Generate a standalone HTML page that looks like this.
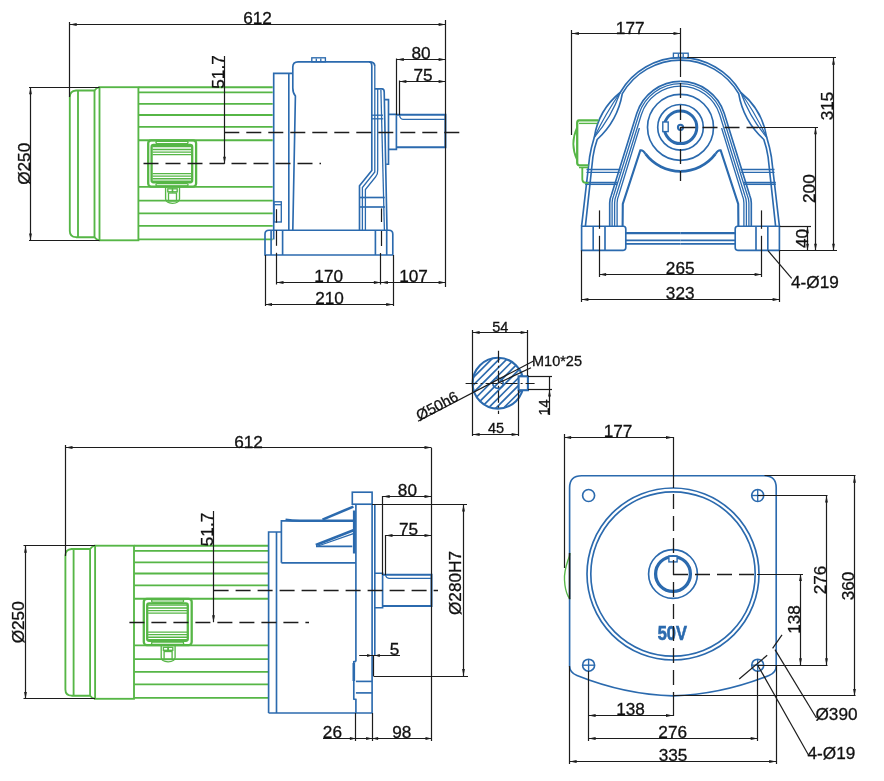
<!DOCTYPE html>
<html><head><meta charset="utf-8"><title>Gear motor drawing</title><style>
html,body{margin:0;padding:0;background:#fff;}
svg{display:block;will-change:transform;}
.k{stroke:#1c1c1c;stroke-width:1.2;fill:none;}
.kk{stroke:#1c1c1c;stroke-width:1.6;fill:none;}
.dsh{stroke:#1c1c1c;stroke-width:1.3;fill:none;stroke-dasharray:15 7;}
.ar{fill:#1c1c1c;stroke:none;}
.b{stroke:#2b6aae;stroke-width:1.65;fill:none;}
.bt{stroke:#2b6aae;stroke-width:2.1;fill:none;}
.b2{stroke:#2b6aae;stroke-width:1.35;fill:none;}
.b3{stroke:#2b6aae;stroke-width:1.3;fill:none;}
.b5{stroke:#2b6aae;stroke-width:1.7;fill:none;}
.cl{stroke:#1c1c1c;stroke-width:1.2;fill:none;stroke-dasharray:12 3 2 3;}
.b4{stroke:#2b6aae;stroke-width:2.6;fill:none;}
.g{stroke:#56b646;stroke-width:1.85;fill:none;}
.g2{stroke:#56b646;stroke-width:1.35;fill:none;}
.g3{stroke:#56b646;stroke-width:2.3;fill:none;}
.t{font-family:"Liberation Sans",sans-serif;fill:#111;stroke:#111;stroke-width:0.3;}
</style></head>
<body><svg width="884" height="781" viewBox="0 0 884 781">
<rect x="0" y="0" width="884" height="781" fill="#fff"/>
<path class="g" d="M99.5,87.2 Q96,88 94.5,90.5 L76,90.5 Q69.8,91 69.8,97 L69.8,231 Q69.8,237 76,237.2 L94.5,237.2 Q96,239.5 99.5,240.3"/>
<line class="g" x1="78.0" y1="90.5" x2="78.0" y2="237.2"/>
<line class="g" x1="94.5" y1="90.5" x2="94.5" y2="237.2"/>
<rect class="g" x="99.5" y="87.2" width="38.9" height="153.1" rx="0"/>
<line class="g" x1="138.7" y1="87.2" x2="272.7" y2="87.2"/>
<line class="g" x1="138.7" y1="92.4" x2="272.7" y2="92.4"/>
<line class="g" x1="138.7" y1="103.8" x2="272.7" y2="103.8"/>
<line class="g" x1="138.7" y1="115.0" x2="272.7" y2="115.0"/>
<line class="g" x1="138.7" y1="126.8" x2="272.7" y2="126.8"/>
<line class="g" x1="138.7" y1="140.2" x2="272.7" y2="140.2"/>
<line class="g" x1="138.7" y1="186.8" x2="272.7" y2="186.8"/>
<line class="g" x1="138.7" y1="200.6" x2="272.7" y2="200.6"/>
<line class="g" x1="138.7" y1="213.3" x2="272.7" y2="213.3"/>
<line class="g" x1="138.7" y1="225.9" x2="272.7" y2="225.9"/>
<line class="g" x1="138.7" y1="239.3" x2="272.7" y2="239.3"/>
<rect class="g3" x="148.2" y="140.3" width="47.9" height="46.3" rx="3"/>
<rect class="g3" x="151.6" y="144.9" width="40.6" height="37.4" rx="2"/>
<line class="g2" x1="152.5" y1="146.6" x2="191.5" y2="146.6"/>
<line class="g2" x1="152.5" y1="149.5" x2="191.5" y2="149.5"/>
<line class="g2" x1="152.5" y1="152.1" x2="191.5" y2="152.1"/>
<line class="g2" x1="152.5" y1="154.6" x2="191.5" y2="154.6"/>
<line class="g2" x1="152.5" y1="173.6" x2="191.5" y2="173.6"/>
<line class="g2" x1="152.5" y1="176.1" x2="191.5" y2="176.1"/>
<line class="g2" x1="152.5" y1="178.7" x2="191.5" y2="178.7"/>
<line class="g2" x1="152.5" y1="181.2" x2="191.5" y2="181.2"/>
<rect class="g2" x="156.0" y="141.2" width="32.0" height="2.4" rx="1"/>
<rect class="g2" x="156.0" y="183.6" width="32.0" height="2.4" rx="1"/>
<path class="g2" d="M165.6,186.9 L165.6,199 Q166,203 172.5,203.3 Q179,203 179.5,199 L179.5,186.9"/>
<rect class="g2" x="167.8" y="188.8" width="4.6" height="3.0" rx="0"/>
<rect class="g2" x="172.6" y="188.8" width="4.6" height="3.0" rx="0"/>
<rect class="g2" x="168.5" y="193.0" width="8.0" height="8.0" rx="0"/>
<path class="b" d="M273.7,239.5 L273.7,73.4 L292.7,73.4"/>
<line class="b" x1="288.8" y1="73.4" x2="288.8" y2="230.2"/>
<path class="b" d="M292.8,230.2 L295.4,96 Q292.8,93 292.8,88 L292.8,67 Q292.8,61.8 298,61.8 L369,61.8 Q371.8,61.8 371.8,66"/>
<path class="b" d="M369,61.8 Q374.8,61.8 374.8,66"/>
<rect class="b2" x="311.8" y="57.8" width="13.6" height="4.0" rx="0"/>
<line class="b3" x1="316.3" y1="58.5" x2="316.3" y2="61.5"/>
<line class="b3" x1="320.8" y1="58.5" x2="320.8" y2="61.5"/>
<path class="b" d="M374.8,88.9 L382,88.9 Q384.2,89 384.2,92 L387,230.2"/>
<line class="b3" x1="380.9" y1="90.0" x2="384.4" y2="230.2"/>
<path class="b3" d="M377.7,88.9 L377.7,170 Q378,174 375.5,177 L365.4,189.6 L365.4,230.2"/>
<path class="b" d="M384.8,99.6 L388.5,99.6 L388.5,164.2 L386.2,164.2"/>
<line class="b3" x1="371.8" y1="118.8" x2="383.2" y2="118.8"/>
<line class="b3" x1="371.8" y1="115.2" x2="383.0" y2="115.2"/>
<path class="b" d="M388.5,114.3 L396.4,114.3 L396.4,149.4 L388.5,149.4"/>
<path class="bt" d="M396.4,114.8 L445.4,114.8 L445.4,147.3 L396.4,147.3"/>
<path class="b3" d="M399.5,115 Q400,119 403,119.3 L445,119.3"/>
<path class="b" d="M371.8,66 L371.8,170.4 L359.5,185.8 L359.5,230.2"/>
<path class="b3" d="M374.8,66 L374.8,172 L362.4,187.6 L362.4,230.2"/>
<line class="b" x1="359.5" y1="197.5" x2="384.8" y2="197.5"/>
<line class="b" x1="359.5" y1="207.0" x2="385.0" y2="207.0"/>
<rect class="b2" x="274.0" y="201.8" width="7.3" height="20.2" rx="0"/>
<line class="b3" x1="274.5" y1="204.7" x2="281.0" y2="204.7"/>
<path class="b" d="M265,255 L265,234 Q265,230.2 269,230.2 L389,230.2 Q392.8,230.2 392.8,234 L392.8,255 Z"/>
<line class="b" x1="271.1" y1="230.2" x2="271.1" y2="255.0"/>
<line class="b" x1="282.6" y1="230.2" x2="282.6" y2="255.0"/>
<line class="b" x1="375.4" y1="230.2" x2="375.4" y2="255.0"/>
<line class="b" x1="386.7" y1="230.2" x2="386.7" y2="255.0"/>
<line class="k" x1="69.5" y1="22.0" x2="69.5" y2="97.0"/>
<line class="k" x1="69.7" y1="24.5" x2="445.6" y2="24.5"/>
<path class="ar" d="M69.7,24.5 L76.7,23.1 L76.7,25.9Z"/>
<path class="ar" d="M445.6,24.5 L438.6,25.9 L438.6,23.1Z"/>
<text class="t" x="257.5" y="24.3" font-size="17.2" text-anchor="middle">612</text>
<line class="k" x1="445.5" y1="20.0" x2="445.5" y2="287.0"/>
<line class="k" x1="396.5" y1="58.5" x2="396.5" y2="115.0"/>
<line class="k" x1="396.8" y1="59.5" x2="445.6" y2="59.5"/>
<path class="ar" d="M396.8,59.5 L403.8,58.1 L403.8,60.9Z"/>
<path class="ar" d="M445.6,59.5 L438.6,60.9 L438.6,58.1Z"/>
<text class="t" x="421.0" y="58.6" font-size="17.2" text-anchor="middle">80</text>
<line class="k" x1="399.5" y1="80.5" x2="399.5" y2="115.0"/>
<line class="k" x1="399.4" y1="81.5" x2="445.6" y2="81.5"/>
<path class="ar" d="M399.4,81.5 L406.4,80.1 L406.4,82.9Z"/>
<path class="ar" d="M445.6,81.5 L438.6,82.9 L438.6,80.1Z"/>
<text class="t" x="423.0" y="80.8" font-size="17.2" text-anchor="middle">75</text>
<line class="k" x1="29.0" y1="87.5" x2="99.5" y2="87.5"/>
<line class="k" x1="29.0" y1="240.5" x2="99.5" y2="240.5"/>
<line class="k" x1="30.5" y1="87.2" x2="30.5" y2="240.4"/>
<path class="ar" d="M30.5,87.2 L31.9,94.2 L29.1,94.2Z"/>
<path class="ar" d="M30.5,240.4 L29.1,233.4 L31.9,233.4Z"/>
<text class="t" x="30.0" y="163.8" font-size="17.2" text-anchor="middle" transform="rotate(-90 30.0 163.8)">Ø250</text>
<line class="k" x1="224.5" y1="56.0" x2="224.5" y2="163.8"/>
<path class="ar" d="M224.5,163.8 L223.1,156.8 L225.9,156.8Z"/>
<text class="t" x="223.7" y="72.0" font-size="17.2" text-anchor="middle" transform="rotate(-90 223.7 72.0)">51.7</text>
<line class="dsh" x1="224.3" y1="132.5" x2="461.0" y2="132.5"/>
<line class="dsh" x1="143.5" y1="163.5" x2="321.0" y2="163.5"/>
<line class="k" x1="276.5" y1="252.8" x2="276.5" y2="284.5"/>
<line class="k" x1="380.5" y1="253.0" x2="380.5" y2="284.5"/>
<line class="k" x1="276.5" y1="209.2" x2="276.5" y2="222.7"/>
<line class="k" x1="276.5" y1="230.4" x2="276.5" y2="245.8"/>
<line class="k" x1="381.5" y1="208.4" x2="381.5" y2="222.0"/>
<line class="k" x1="381.5" y1="231.0" x2="381.5" y2="246.0"/>
<line class="k" x1="265.5" y1="255.0" x2="265.5" y2="306.0"/>
<line class="k" x1="393.5" y1="255.0" x2="393.5" y2="306.0"/>
<line class="k" x1="276.5" y1="282.5" x2="380.9" y2="282.5"/>
<path class="ar" d="M276.5,282.5 L283.5,281.1 L283.5,283.9Z"/>
<path class="ar" d="M380.9,282.5 L373.9,283.9 L373.9,281.1Z"/>
<text class="t" x="328.7" y="282.4" font-size="17.2" text-anchor="middle">170</text>
<line class="k" x1="380.9" y1="282.5" x2="445.6" y2="282.5"/>
<path class="ar" d="M380.9,282.5 L387.9,281.1 L387.9,283.9Z"/>
<path class="ar" d="M445.6,282.5 L438.6,283.9 L438.6,281.1Z"/>
<text class="t" x="413.5" y="282.4" font-size="17.2" text-anchor="middle">107</text>
<line class="k" x1="265.0" y1="304.5" x2="393.2" y2="304.5"/>
<path class="ar" d="M265.0,304.5 L272.0,303.1 L272.0,305.9Z"/>
<path class="ar" d="M393.2,304.5 L386.2,305.9 L386.2,303.1Z"/>
<text class="t" x="329.5" y="304.0" font-size="17.2" text-anchor="middle">210</text>
<g>
<path class="b" d="M680.5,57.7 A69.6,69.6 0 0 0 620.2,92.5 Q598.5,110 594.3,137.3 Q591,148 589.6,157 L581.6,226.2"/>
<path class="b" d="M680.5,60.099999999999994 A67.2,67.2 0 0 0 622.3,93.7 Q617.6,121 597.2,139.5 Q594.2,148 592.9,157 L585.4,226.2"/>
<path class="b3" d="M620.2,92.5 Q605.5,113.7 594.3,137.3"/>
<path class="b3" d="M620.2,92.5 Q611.3,117.3 594.3,137.3"/>
<line class="b" x1="586.5" y1="169.5" x2="620.5" y2="169.5"/>
<line class="b3" x1="586.4" y1="172.3" x2="619.8" y2="172.3"/>
<line class="b" x1="585.2" y1="182.6" x2="617.5" y2="182.6"/>
<line class="b3" x1="585.2" y1="184.4" x2="617.0" y2="184.4"/>
<path class="b" d="M680.5,81.4 A45.9,45.9 0 0 0 636.8,113.3 L611.1,196.0 Q609.7,199.0 609.7,203.0 L609.7,226.2"/>
<path class="b3" d="M680.5,83.7 A43.6,43.6 0 0 0 639.0,114.0 L613.5,196.0 Q612.1,199.0 612.1,203.0 L612.1,226.2"/>
<path class="b3" d="M680.5,86.1 A41.2,41.2 0 0 0 641.3,114.7 L616.0,196.0 Q614.6,199.0 614.6,203.0 L614.6,226.2"/>
<path class="b3" d="M639.4,128 L618.5,196.0 Q617.1,199.0 617.1,203.0 L617.1,226.2"/>
<path class="bt" d="M622.6,226.2 L622.8,204 L640.3,150.3 Q642.8,149.6 645.5,153.9"/>
<path class="b4" d="M645.5,153.9 A44.1,44.1 0 0 0 680.5,171.4"/>
<path class="b" d="M623.5,226.2 L581.6,226.2 L581.6,250.3 L623.5,250.3 Q625.8,250 625.8,247.5 L625.8,229 Q625.8,226.2 623.5,226.2"/>
<line class="b" x1="593.2" y1="226.2" x2="593.2" y2="250.3"/>
<line class="b" x1="605.0" y1="226.2" x2="605.0" y2="250.3"/>
<line class="bt" x1="625.8" y1="233.1" x2="680.5" y2="233.1"/>
<line class="b" x1="625.8" y1="240.4" x2="680.5" y2="240.4"/>
<line class="b" x1="625.8" y1="243.8" x2="680.5" y2="243.8"/>
</g>
<g transform="translate(1361,0) scale(-1,1)">
<path class="b" d="M680.5,57.7 A69.6,69.6 0 0 0 620.2,92.5 Q598.5,110 594.3,137.3 Q591,148 589.6,157 L581.6,226.2"/>
<path class="b" d="M680.5,60.099999999999994 A67.2,67.2 0 0 0 622.3,93.7 Q617.6,121 597.2,139.5 Q594.2,148 592.9,157 L585.4,226.2"/>
<path class="b3" d="M620.2,92.5 Q605.5,113.7 594.3,137.3"/>
<path class="b3" d="M620.2,92.5 Q611.3,117.3 594.3,137.3"/>
<line class="b" x1="586.5" y1="169.5" x2="620.5" y2="169.5"/>
<line class="b3" x1="586.4" y1="172.3" x2="619.8" y2="172.3"/>
<line class="b" x1="585.2" y1="182.6" x2="617.5" y2="182.6"/>
<line class="b3" x1="585.2" y1="184.4" x2="617.0" y2="184.4"/>
<path class="b" d="M680.5,81.4 A45.9,45.9 0 0 0 636.8,113.3 L611.1,196.0 Q609.7,199.0 609.7,203.0 L609.7,226.2"/>
<path class="b3" d="M680.5,83.7 A43.6,43.6 0 0 0 639.0,114.0 L613.5,196.0 Q612.1,199.0 612.1,203.0 L612.1,226.2"/>
<path class="b3" d="M680.5,86.1 A41.2,41.2 0 0 0 641.3,114.7 L616.0,196.0 Q614.6,199.0 614.6,203.0 L614.6,226.2"/>
<path class="b3" d="M639.4,128 L618.5,196.0 Q617.1,199.0 617.1,203.0 L617.1,226.2"/>
<path class="bt" d="M622.6,226.2 L622.8,204 L640.3,150.3 Q642.8,149.6 645.5,153.9"/>
<path class="b4" d="M645.5,153.9 A44.1,44.1 0 0 0 680.5,171.4"/>
<path class="b" d="M623.5,226.2 L581.6,226.2 L581.6,250.3 L623.5,250.3 Q625.8,250 625.8,247.5 L625.8,229 Q625.8,226.2 623.5,226.2"/>
<line class="b" x1="593.2" y1="226.2" x2="593.2" y2="250.3"/>
<line class="b" x1="605.0" y1="226.2" x2="605.0" y2="250.3"/>
<line class="bt" x1="625.8" y1="233.1" x2="680.5" y2="233.1"/>
<line class="b" x1="625.8" y1="240.4" x2="680.5" y2="240.4"/>
<line class="b" x1="625.8" y1="243.8" x2="680.5" y2="243.8"/>
</g>
<circle class="b" cx="680.5" cy="127.3" r="33.0"/>
<circle class="b" cx="680.5" cy="127.3" r="22.8"/>
<circle cx="680.5" cy="127.3" r="16.3" fill="none" stroke="#2b6aae" stroke-width="3"/>
<circle cx="680.5" cy="127.3" r="2.6" fill="none" stroke="#2b6aae" stroke-width="2"/>
<rect x="662.8" y="122" width="5.4" height="9.6" fill="#fff" stroke="#2b6aae" stroke-width="1.4"/>
<rect class="b2" x="673.4" y="53.2" width="14.8" height="4.6" rx="0"/>
<line class="b3" x1="678.4" y1="53.6" x2="678.4" y2="57.6"/>
<line class="b3" x1="683.2" y1="53.6" x2="683.2" y2="57.6"/>
<path class="g3" d="M598.4,120.4 L579,120.4 Q577.2,120.6 577.2,123 L577.2,163 Q577.4,165.3 579.5,165.3 L588.5,165.3"/>
<path class="g" d="M577.2,127.4 Q569.5,143.8 577.2,160.2"/>
<line class="g2" x1="579.0" y1="123.4" x2="597.5" y2="123.4"/>
<line class="g2" x1="579.0" y1="167.6" x2="588.0" y2="167.6"/>
<path class="g" d="M582.3,167.6 L582.3,179.5 Q582.5,182.8 586,182.8 L588.5,182.8"/>
<line class="k" x1="571.5" y1="30.0" x2="571.5" y2="135.0"/>
<line class="k" x1="571.9" y1="33.5" x2="680.5" y2="33.5"/>
<path class="ar" d="M571.9,33.5 L578.9,32.1 L578.9,34.9Z"/>
<path class="ar" d="M680.5,33.5 L673.5,34.9 L673.5,32.1Z"/>
<text class="t" x="630.2" y="33.8" font-size="17.2" text-anchor="middle">177</text>
<line class="k" x1="680.5" y1="28.0" x2="680.5" y2="77.0"/>
<line class="dsh" x1="680.5" y1="83.0" x2="680.5" y2="181.0"/>
<line class="k" x1="687.0" y1="57.5" x2="836.0" y2="57.5"/>
<line class="k" x1="833.5" y1="57.7" x2="833.5" y2="250.7"/>
<path class="ar" d="M833.5,57.7 L834.9,64.7 L832.1,64.7Z"/>
<path class="ar" d="M833.5,250.7 L832.1,243.7 L834.9,243.7Z"/>
<text class="t" x="833.0" y="106.0" font-size="17.2" text-anchor="middle" transform="rotate(-90 833.0 106.0)">315</text>
<line class="dsh" x1="680.5" y1="127.5" x2="758.0" y2="127.5"/>
<line class="k" x1="758.0" y1="127.5" x2="818.0" y2="127.5"/>
<line class="k" x1="815.5" y1="127.3" x2="815.5" y2="250.7"/>
<path class="ar" d="M815.5,127.3 L816.9,134.3 L814.1,134.3Z"/>
<path class="ar" d="M815.5,250.7 L814.1,243.7 L816.9,243.7Z"/>
<text class="t" x="815.0" y="188.6" font-size="17.2" text-anchor="middle" transform="rotate(-90 815.0 188.6)">200</text>
<line class="k" x1="779.7" y1="226.5" x2="811.0" y2="226.5"/>
<line class="k" x1="779.7" y1="250.5" x2="837.0" y2="250.5"/>
<line class="k" x1="807.5" y1="226.2" x2="807.5" y2="250.7"/>
<path class="ar" d="M807.5,226.2 L808.9,233.2 L806.1,233.2Z"/>
<path class="ar" d="M807.5,250.7 L806.1,243.7 L808.9,243.7Z"/>
<text class="t" x="807.5" y="238.5" font-size="17.2" text-anchor="middle" transform="rotate(-90 807.5 238.5)">40</text>
<line class="k" x1="599.5" y1="210.4" x2="599.5" y2="228.8"/>
<line class="k" x1="599.5" y1="235.8" x2="599.5" y2="277.0"/>
<line class="k" x1="761.5" y1="210.4" x2="761.5" y2="228.8"/>
<line class="k" x1="761.5" y1="235.8" x2="761.5" y2="277.0"/>
<line class="k" x1="599.1" y1="274.5" x2="761.6" y2="274.5"/>
<path class="ar" d="M599.1,274.5 L606.1,273.1 L606.1,275.9Z"/>
<path class="ar" d="M761.6,274.5 L754.6,275.9 L754.6,273.1Z"/>
<text class="t" x="680.2" y="274.2" font-size="17.2" text-anchor="middle">265</text>
<line class="k" x1="581.5" y1="250.3" x2="581.5" y2="302.0"/>
<line class="k" x1="779.5" y1="250.3" x2="779.5" y2="302.0"/>
<line class="k" x1="581.4" y1="299.5" x2="779.6" y2="299.5"/>
<path class="ar" d="M581.4,299.5 L588.4,298.1 L588.4,300.9Z"/>
<path class="ar" d="M779.6,299.5 L772.6,300.9 L772.6,298.1Z"/>
<text class="t" x="680.2" y="299.2" font-size="17.2" text-anchor="middle">323</text>
<line class="k" x1="768.0" y1="250.7" x2="791.7" y2="278.3"/>
<text class="t" x="791.0" y="287.5" font-size="17.2" text-anchor="start">4-Ø19</text>
<defs><clipPath id="sc"><circle cx="498" cy="383.2" r="25"/></clipPath></defs>
<g clip-path="url(#sc)">
<line class="b5" x1="397.2" y1="423.2" x2="477.2" y2="343.2"/>
<line class="b5" x1="404.8" y1="423.2" x2="484.8" y2="343.2"/>
<line class="b5" x1="412.4" y1="423.2" x2="492.4" y2="343.2"/>
<line class="b5" x1="420.0" y1="423.2" x2="500.0" y2="343.2"/>
<line class="b5" x1="427.6" y1="423.2" x2="507.6" y2="343.2"/>
<line class="b5" x1="435.2" y1="423.2" x2="515.2" y2="343.2"/>
<line class="b5" x1="442.8" y1="423.2" x2="522.8" y2="343.2"/>
<line class="b5" x1="450.4" y1="423.2" x2="530.4" y2="343.2"/>
<line class="b5" x1="458.0" y1="423.2" x2="538.0" y2="343.2"/>
<line class="b5" x1="465.6" y1="423.2" x2="545.6" y2="343.2"/>
<line class="b5" x1="473.2" y1="423.2" x2="553.2" y2="343.2"/>
<line class="b5" x1="480.8" y1="423.2" x2="560.8" y2="343.2"/>
<line class="b5" x1="488.4" y1="423.2" x2="568.4" y2="343.2"/>
<line class="b5" x1="496.0" y1="423.2" x2="576.0" y2="343.2"/>
<line class="b5" x1="503.6" y1="423.2" x2="583.6" y2="343.2"/>
<line class="b5" x1="511.2" y1="423.2" x2="591.2" y2="343.2"/>
<line class="b5" x1="518.8" y1="423.2" x2="598.8" y2="343.2"/>
</g>
<circle class="bt" cx="498.0" cy="383.2" r="25.4"/>
<rect class="bt" x="518.6" y="376.3" width="9.3" height="13.9" fill="#fff" style="fill:#fff"/>
<circle class="b" cx="498.0" cy="383.2" r="5.2"/>
<line class="cl" x1="465.6" y1="383.5" x2="534.6" y2="383.5"/>
<line class="cl" x1="498.5" y1="350.7" x2="498.5" y2="414"/>
<line class="k" x1="418.0" y1="421.3" x2="533.5" y2="361.0"/>
<line class="k" x1="498.0" y1="383.2" x2="531.0" y2="367.8"/>
<text class="t" x="532.0" y="366.2" font-size="14.5" text-anchor="start">M10*25</text>
<text class="t" x="439.5" y="410.5" font-size="15" text-anchor="middle" transform="rotate(-28 439.5 410.5)">Ø50h6</text>
<line class="k" x1="472.5" y1="330.0" x2="472.5" y2="436.0"/>
<line class="k" x1="527.5" y1="330.0" x2="527.5" y2="376.0"/>
<line class="k" x1="472.6" y1="332.5" x2="527.6" y2="332.5"/>
<path class="ar" d="M472.6,332.5 L479.6,331.1 L479.6,333.9Z"/>
<path class="ar" d="M527.6,332.5 L520.6,333.9 L520.6,331.1Z"/>
<text class="t" x="500.2" y="332.0" font-size="14.5" text-anchor="middle">54</text>
<line class="k" x1="518.5" y1="390.3" x2="518.5" y2="436.0"/>
<line class="k" x1="472.6" y1="434.5" x2="518.6" y2="434.5"/>
<path class="ar" d="M472.6,434.5 L479.6,433.1 L479.6,435.9Z"/>
<path class="ar" d="M518.6,434.5 L511.6,435.9 L511.6,433.1Z"/>
<text class="t" x="496.0" y="433.4" font-size="14.5" text-anchor="middle">45</text>
<line class="k" x1="528.0" y1="376.5" x2="552.0" y2="376.5"/>
<line class="k" x1="528.0" y1="389.5" x2="552.0" y2="389.5"/>
<line class="k" x1="549.5" y1="376.7" x2="549.5" y2="415.0"/>
<path class="ar" d="M549.5,389.6 L550.9,396.6 L548.1,396.6Z"/>
<text class="t" x="549.0" y="407.5" font-size="14.5" text-anchor="middle" transform="rotate(-90 549.0 407.5)">14</text>
<path class="g" d="M95.1,545.7 Q91.6,546.5 90.1,549.0 L71.6,549.0 Q65.39999999999999,549.5 65.39999999999999,555.5 L65.39999999999999,689.5 Q65.39999999999999,695.5 71.6,695.7 L90.1,695.7 Q91.6,698.0 95.1,698.8"/>
<line class="g" x1="73.6" y1="549.0" x2="73.6" y2="695.7"/>
<line class="g" x1="90.1" y1="549.0" x2="90.1" y2="695.7"/>
<rect class="g" x="95.1" y="545.7" width="38.9" height="153.1" rx="0"/>
<line class="g" x1="134.3" y1="545.7" x2="268.6" y2="545.7"/>
<line class="g" x1="134.3" y1="550.9" x2="268.6" y2="550.9"/>
<line class="g" x1="134.3" y1="562.3" x2="268.6" y2="562.3"/>
<line class="g" x1="134.3" y1="573.5" x2="268.6" y2="573.5"/>
<line class="g" x1="134.3" y1="585.3" x2="268.6" y2="585.3"/>
<line class="g" x1="134.3" y1="598.7" x2="268.6" y2="598.7"/>
<line class="g" x1="134.3" y1="645.3" x2="268.6" y2="645.3"/>
<line class="g" x1="134.3" y1="659.1" x2="268.6" y2="659.1"/>
<line class="g" x1="134.3" y1="671.8" x2="268.6" y2="671.8"/>
<line class="g" x1="134.3" y1="684.4" x2="268.6" y2="684.4"/>
<line class="g" x1="134.3" y1="697.8" x2="268.6" y2="697.8"/>
<rect class="g3" x="143.8" y="598.8" width="47.9" height="46.3" rx="3"/>
<rect class="g3" x="147.2" y="603.4" width="40.6" height="37.4" rx="2"/>
<line class="g2" x1="148.1" y1="605.1" x2="187.1" y2="605.1"/>
<line class="g2" x1="148.1" y1="608.0" x2="187.1" y2="608.0"/>
<line class="g2" x1="148.1" y1="610.6" x2="187.1" y2="610.6"/>
<line class="g2" x1="148.1" y1="613.1" x2="187.1" y2="613.1"/>
<line class="g2" x1="148.1" y1="632.1" x2="187.1" y2="632.1"/>
<line class="g2" x1="148.1" y1="634.6" x2="187.1" y2="634.6"/>
<line class="g2" x1="148.1" y1="637.2" x2="187.1" y2="637.2"/>
<line class="g2" x1="148.1" y1="639.7" x2="187.1" y2="639.7"/>
<rect class="g2" x="151.6" y="599.7" width="32.0" height="2.4" rx="1"/>
<rect class="g2" x="151.6" y="642.1" width="32.0" height="2.4" rx="1"/>
<path class="g2" d="M161.2,645.4 L161.2,657.5 Q161.6,661.5 168.1,661.8 Q174.6,661.5 175.1,657.5 L175.1,645.4"/>
<rect class="g2" x="163.4" y="647.3" width="4.6" height="3.0" rx="0"/>
<rect class="g2" x="168.2" y="647.3" width="4.6" height="3.0" rx="0"/>
<rect class="g2" x="164.1" y="651.5" width="8.0" height="8.0" rx="0"/>
<path class="b" d="M268.6,713 L268.6,532 L281.4,532"/>
<line class="b" x1="276.5" y1="532.0" x2="276.5" y2="713.0"/>
<path class="b" d="M281.4,562.8 L281.4,520.9 L355.9,520.9"/>
<line class="b" x1="281.4" y1="562.8" x2="355.9" y2="562.8"/>
<path class="b4" d="M285.5,519.8 Q292,520.8 300,520.8 L353,520.8"/>
<path class="b4" d="M322.5,519.6 L353.4,506.6"/>
<path class="b4" d="M315.8,545 L353.4,530.3"/>
<path class="b3" d="M318,546 L353.4,533.6"/>
<line class="b" x1="316.0" y1="546.3" x2="352.3" y2="546.3"/>
<line class="b4" x1="354.2" y1="510.5" x2="354.2" y2="553.5"/>
<rect class="b" x="352.3" y="492.2" width="19.8" height="12.0" rx="0"/>
<path class="b" d="M355.9,504.2 L355.9,661.4"/>
<line class="b" x1="372.1" y1="504.2" x2="372.1" y2="713.0"/>
<line class="b" x1="374.8" y1="504.2" x2="374.8" y2="655.0"/>
<path class="b" d="M355.9,661.4 L353.8,661.8 L353.8,699 L355.9,699.5 L355.9,713"/>
<line class="b4" x1="353.8" y1="663.0" x2="353.8" y2="681.0"/>
<line class="b" x1="355.9" y1="681.4" x2="372.1" y2="681.4"/>
<line class="b" x1="355.9" y1="692.9" x2="372.1" y2="692.9"/>
<line class="b" x1="268.6" y1="713.0" x2="372.1" y2="713.0"/>
<path class="b" d="M374.8,573.2 L382.6,573.2 L382.6,607.7 L374.8,607.7"/>
<path class="bt" d="M382.6,574.8 L431.5,574.8 L431.5,606 L382.6,606"/>
<path class="b3" d="M385.5,575 Q386,578 389,578.3 L431.5,578.3"/>
<line class="k" x1="65.5" y1="445.0" x2="65.5" y2="556.0"/>
<line class="k" x1="65.5" y1="447.5" x2="431.5" y2="447.5"/>
<path class="ar" d="M65.5,447.5 L72.5,446.1 L72.5,448.9Z"/>
<path class="ar" d="M431.5,447.5 L424.5,448.9 L424.5,446.1Z"/>
<text class="t" x="248.5" y="447.6" font-size="17.2" text-anchor="middle">612</text>
<line class="k" x1="431.5" y1="447.9" x2="431.5" y2="741.0"/>
<line class="k" x1="382.5" y1="496.0" x2="382.5" y2="575.0"/>
<line class="k" x1="382.7" y1="496.5" x2="431.5" y2="496.5"/>
<path class="ar" d="M382.7,496.5 L389.7,495.1 L389.7,497.9Z"/>
<path class="ar" d="M431.5,496.5 L424.5,497.9 L424.5,495.1Z"/>
<text class="t" x="407.4" y="495.6" font-size="17.2" text-anchor="middle">80</text>
<line class="k" x1="385.5" y1="535.0" x2="385.5" y2="575.0"/>
<line class="k" x1="385.5" y1="535.5" x2="431.5" y2="535.5"/>
<path class="ar" d="M385.5,535.5 L392.5,534.1 L392.5,536.9Z"/>
<path class="ar" d="M431.5,535.5 L424.5,536.9 L424.5,534.1Z"/>
<text class="t" x="408.6" y="534.9" font-size="17.2" text-anchor="middle">75</text>
<line class="k" x1="372.1" y1="504.5" x2="467.0" y2="504.5"/>
<line class="k" x1="373.5" y1="676.5" x2="468.0" y2="676.5"/>
<line class="k" x1="463.5" y1="504.4" x2="463.5" y2="676.0"/>
<path class="ar" d="M463.5,504.4 L464.9,511.4 L462.1,511.4Z"/>
<path class="ar" d="M463.5,676.0 L462.1,669.0 L464.9,669.0Z"/>
<text class="t" x="461.3" y="583.0" font-size="17.2" text-anchor="middle" transform="rotate(-90 461.3 583.0)">Ø280H7</text>
<line class="k" x1="23.5" y1="545.5" x2="95.1" y2="545.5"/>
<line class="k" x1="23.5" y1="698.5" x2="95.1" y2="698.5"/>
<line class="k" x1="25.5" y1="545.7" x2="25.5" y2="698.9"/>
<path class="ar" d="M25.5,545.7 L26.9,552.7 L24.1,552.7Z"/>
<path class="ar" d="M25.5,698.9 L24.1,691.9 L26.9,691.9Z"/>
<text class="t" x="24.5" y="622.3" font-size="17.2" text-anchor="middle" transform="rotate(-90 24.5 622.3)">Ø250</text>
<line class="k" x1="213.5" y1="511.0" x2="213.5" y2="622.2"/>
<path class="ar" d="M213.5,622.2 L212.1,615.2 L214.9,615.2Z"/>
<text class="t" x="213.0" y="529.5" font-size="17.2" text-anchor="middle" transform="rotate(-90 213.0 529.5)">51.7</text>
<line class="dsh" x1="213.6" y1="590.5" x2="438.0" y2="590.5"/>
<line class="dsh" x1="129.4" y1="622.5" x2="309.0" y2="622.5"/>
<line class="k" x1="359.2" y1="655.5" x2="400.0" y2="655.5"/>
<path class="ar" d="M372.1,655.5 L367.1,656.9 L367.1,654.1Z"/>
<path class="ar" d="M374.8,655.5 L379.8,654.1 L379.8,656.9Z"/>
<line class="k" x1="373.5" y1="655.3" x2="373.5" y2="676.0"/>
<text class="t" x="394.5" y="654.5" font-size="17.2" text-anchor="middle">5</text>
<line class="k" x1="355.5" y1="713.0" x2="355.5" y2="741.0"/>
<line class="k" x1="372.5" y1="713.0" x2="372.5" y2="741.0"/>
<line class="k" x1="323.0" y1="738.5" x2="431.5" y2="738.5"/>
<path class="ar" d="M355.9,738.5 L349.9,739.9 L349.9,737.1Z"/>
<path class="ar" d="M372.1,738.5 L378.1,737.1 L378.1,739.9Z"/>
<path class="ar" d="M372.1,738.5 L366.1,739.9 L366.1,737.1Z"/>
<path class="ar" d="M431.5,738.5 L425.5,739.9 L425.5,737.1Z"/>
<text class="t" x="332.4" y="737.8" font-size="17.2" text-anchor="middle">26</text>
<text class="t" x="401.8" y="737.8" font-size="17.2" text-anchor="middle">98</text>
<path class="b" d="M569.6,666 L569.6,487.7 Q569.6,475.7 581.6,475.7 L764.2,475.7 Q776.2,475.7 776.2,487.7 L776.2,666 Q776.2,672.5 769,675.5 Q721,694.6 673,695.9 Q625,694.6 577,675.5 Q569.6,672.5 569.6,666 Z"/>
<circle class="b" cx="673.0" cy="574.0" r="86.0"/>
<circle class="b" cx="673.0" cy="574.0" r="82.2"/>
<circle class="b" cx="673.0" cy="574.0" r="24.4"/>
<circle cx="673" cy="574" r="17.4" fill="none" stroke="#2b6aae" stroke-width="3.3"/>
<rect x="668.9" y="556.3" width="8.2" height="5.6" fill="#fff" stroke="#2b6aae" stroke-width="1.4"/>
<circle class="b" cx="588.6" cy="495.5" r="6.0"/>
<circle class="b" cx="757.7" cy="495.5" r="6.0"/>
<line class="b2" x1="751.7" y1="495.5" x2="763.7" y2="495.5"/>
<line class="b2" x1="757.7" y1="489.5" x2="757.7" y2="501.5"/>
<circle class="b" cx="588.6" cy="665.2" r="6.0"/>
<line class="b2" x1="582.6" y1="665.2" x2="594.6" y2="665.2"/>
<line class="b2" x1="588.6" y1="659.2" x2="588.6" y2="671.2"/>
<circle class="b" cx="757.7" cy="665.2" r="6.0"/>
<line class="b2" x1="751.7" y1="665.2" x2="763.7" y2="665.2"/>
<line class="b2" x1="757.7" y1="659.2" x2="757.7" y2="671.2"/>
<text x="0" y="0" font-size="21" text-anchor="middle" fill="#2b6aae" stroke="#2b6aae" stroke-width="0.7" font-family="Liberation Sans" font-weight="bold" transform="translate(672.3 640.2) scale(0.78 1)">50V</text>
<path class="g2" d="M569.8,553 Q570,556 568,560 Q564,572 564.5,580 Q565,590 568,596 Q569.5,598 569.8,599.2"/>
<line class="kk" x1="569.6" y1="553.0" x2="569.6" y2="599.2"/>
<line class="k" x1="673.5" y1="437.0" x2="673.5" y2="488.0"/>
<line class="dsh" x1="673.5" y1="494.0" x2="673.5" y2="695.9"/>
<line class="k" x1="673.5" y1="695.9" x2="673.5" y2="716.0"/>
<line class="dsh" x1="673.0" y1="574.5" x2="757.0" y2="574.5"/>
<line class="k" x1="564.5" y1="434.0" x2="564.5" y2="568.0"/>
<line class="k" x1="564.1" y1="437.5" x2="673.0" y2="437.5"/>
<path class="ar" d="M564.1,437.5 L571.1,436.1 L571.1,438.9Z"/>
<path class="ar" d="M673.0,437.5 L666.0,438.9 L666.0,436.1Z"/>
<text class="t" x="618.0" y="436.6" font-size="17.2" text-anchor="middle">177</text>
<line class="k" x1="764.5" y1="475.5" x2="855.5" y2="475.5"/>
<line class="k" x1="757.7" y1="495.5" x2="827.5" y2="495.5"/>
<line class="k" x1="757.7" y1="665.5" x2="827.5" y2="665.5"/>
<line class="k" x1="673.0" y1="695.5" x2="855.5" y2="695.5"/>
<line class="k" x1="757.0" y1="574.5" x2="803.0" y2="574.5"/>
<line class="k" x1="854.5" y1="475.7" x2="854.5" y2="695.9"/>
<path class="ar" d="M854.5,475.7 L855.9,482.7 L853.1,482.7Z"/>
<path class="ar" d="M854.5,695.9 L853.1,688.9 L855.9,688.9Z"/>
<text class="t" x="853.5" y="586.0" font-size="17.2" text-anchor="middle" transform="rotate(-90 853.5 586.0)">360</text>
<line class="k" x1="826.5" y1="495.5" x2="826.5" y2="665.2"/>
<path class="ar" d="M826.5,495.5 L827.9,502.5 L825.1,502.5Z"/>
<path class="ar" d="M826.5,665.2 L825.1,658.2 L827.9,658.2Z"/>
<text class="t" x="825.8" y="580.0" font-size="17.2" text-anchor="middle" transform="rotate(-90 825.8 580.0)">276</text>
<line class="k" x1="800.5" y1="574.0" x2="800.5" y2="665.2"/>
<path class="ar" d="M800.5,574.0 L801.9,581.0 L799.1,581.0Z"/>
<path class="ar" d="M800.5,665.2 L799.1,658.2 L801.9,658.2Z"/>
<text class="t" x="799.5" y="619.5" font-size="17.2" text-anchor="middle" transform="rotate(-90 799.5 619.5)">138</text>
<line class="k" x1="569.5" y1="666.0" x2="569.5" y2="764.0"/>
<line class="k" x1="776.5" y1="666.0" x2="776.5" y2="764.0"/>
<line class="k" x1="588.5" y1="671.0" x2="588.5" y2="741.0"/>
<line class="k" x1="757.5" y1="671.0" x2="757.5" y2="741.0"/>
<line class="k" x1="588.6" y1="715.5" x2="673.0" y2="715.5"/>
<path class="ar" d="M588.6,715.5 L595.6,714.1 L595.6,716.9Z"/>
<path class="ar" d="M673.0,715.5 L666.0,716.9 L666.0,714.1Z"/>
<text class="t" x="630.6" y="715.3" font-size="17.2" text-anchor="middle">138</text>
<line class="k" x1="588.6" y1="738.5" x2="757.7" y2="738.5"/>
<path class="ar" d="M588.6,738.5 L595.6,737.1 L595.6,739.9Z"/>
<path class="ar" d="M757.7,738.5 L750.7,739.9 L750.7,737.1Z"/>
<text class="t" x="672.7" y="738.4" font-size="17.2" text-anchor="middle">276</text>
<line class="k" x1="569.6" y1="761.5" x2="776.2" y2="761.5"/>
<path class="ar" d="M569.6,761.5 L576.6,760.1 L576.6,762.9Z"/>
<path class="ar" d="M776.2,761.5 L769.2,762.9 L769.2,760.1Z"/>
<text class="t" x="673.0" y="761.2" font-size="17.2" text-anchor="middle">335</text>
<line class="k" x1="739.2" y1="679.0" x2="767.2" y2="655.2"/>
<line class="k" x1="772.6" y1="648.4" x2="782.0" y2="634.8"/>
<line class="k" x1="775.0" y1="649.6" x2="816.5" y2="718.0"/>
<line class="k" x1="757.7" y1="665.2" x2="808.5" y2="755.0"/>
<text class="t" x="815.5" y="719.5" font-size="17.2" text-anchor="start">Ø390</text>
<text class="t" x="807.5" y="759.0" font-size="17.2" text-anchor="start">4-Ø19</text>
</svg></body></html>
